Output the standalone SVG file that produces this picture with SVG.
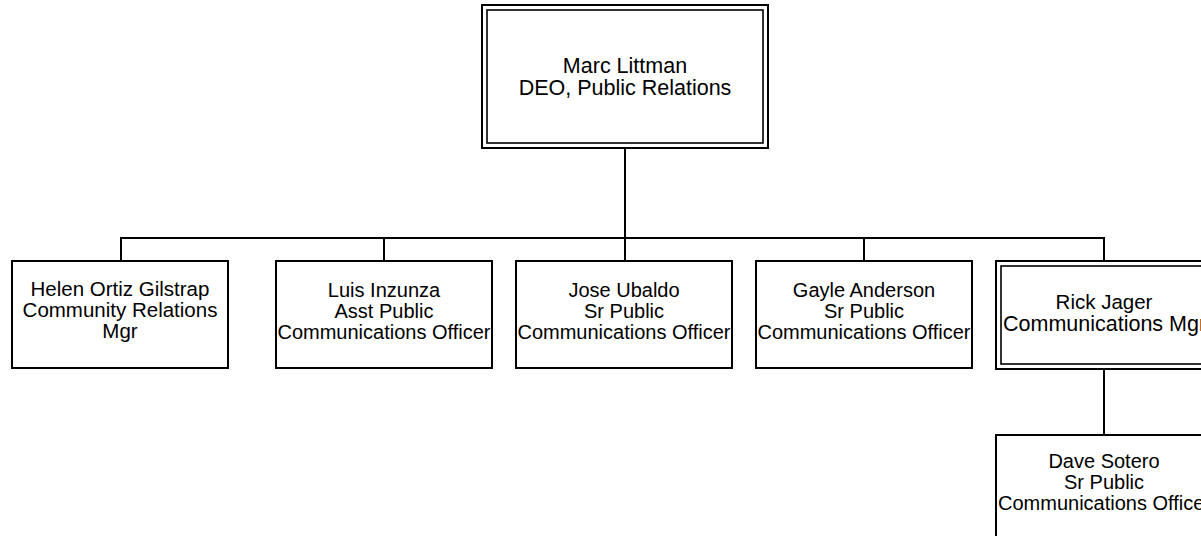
<svg xmlns="http://www.w3.org/2000/svg" width="1201" height="536" viewBox="0 0 1201 536">
<style>
.box{fill:#fff;stroke:#000;stroke-width:2}
.in{fill:none;stroke:#000;stroke-width:1.6}
.ln{stroke:#000;stroke-width:2;fill:none}
text{font-family:"Liberation Sans",Arial,sans-serif;font-size:20px;fill:#000;text-anchor:middle}
.big{font-size:21.5px}
.st{text-anchor:start}
</style>
<rect width="1201" height="536" fill="#fff"/>
<g id="connectors">
<path class="ln" d="M625 148V238M121 238H1104M121 237V261M384 237V261M625 237V261M864 237V261M1104 237V261M1104 369V435"/>
</g>
<g id="marc">
<rect class="box" x="482" y="5" width="286" height="143"/>
<rect class="in" x="487" y="10" width="276" height="133"/>
<text class="big" x="625" y="72.5">Marc Littman</text>
<text class="big" x="625" y="95">DEO, Public Relations</text>
</g>
<g id="helen">
<rect class="box" x="12" y="261" width="216" height="107"/>
<text x="120" y="296" style="font-size:20.5px">Helen Ortiz Gilstrap</text>
<text x="120" y="317" style="font-size:20.5px">Community Relations</text>
<text x="120" y="338" style="font-size:20.5px">Mgr</text>
</g>
<g id="luis">
<rect class="box" x="276" y="261" width="216" height="107"/>
<text x="384" y="297">Luis Inzunza</text>
<text x="384" y="318">Asst Public</text>
<text x="384" y="339">Communications Officer</text>
</g>
<g id="jose">
<rect class="box" x="516" y="261" width="216" height="107"/>
<text x="624" y="297">Jose Ubaldo</text>
<text x="624" y="318">Sr Public</text>
<text x="624" y="339">Communications Officer</text>
</g>
<g id="gayle">
<rect class="box" x="756" y="261" width="216" height="107"/>
<text x="864" y="297">Gayle Anderson</text>
<text x="864" y="318">Sr Public</text>
<text x="864" y="339">Communications Officer</text>
</g>
<g id="rick">
<rect class="box" x="996" y="261" width="216" height="108"/>
<rect class="in" x="1001" y="266" width="206" height="98"/>
<text x="1104" y="309" style="font-size:20.5px">Rick Jager</text>
<text class="st" x="1003" y="331" style="font-size:21.5px">Communications Mgr</text>
</g>
<g id="dave">
<rect class="box" x="996" y="435" width="216" height="107"/>
<text x="1104" y="468">Dave Sotero</text>
<text x="1104" y="489">Sr Public</text>
<text class="st" x="998" y="510">Communications Officer</text>
</g>
</svg>
